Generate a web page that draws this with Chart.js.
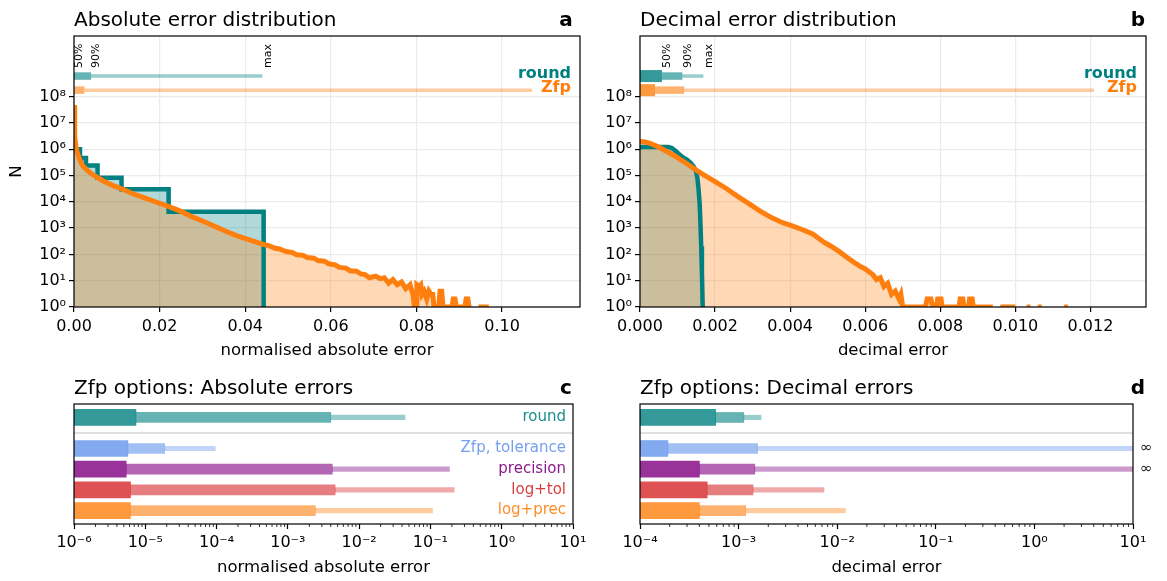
<!DOCTYPE html>
<html>
<head>
<meta charset="utf-8">
<title>Error distributions</title>
<script src="https://cdn.jsdelivr.net/npm/chart.js@4.4.1/dist/chart.umd.min.js"></script>
<style>
  body { margin: 0; background: #fff; }
  #figure { position: relative; width: 1167px; height: 581px; overflow: hidden; }
  #figure canvas { position: absolute; }
</style>
</head>
<body>
<div id="figure">
  <canvas id="absHist" width="583" height="365" style="left:0;top:0"></canvas>
  <canvas id="decHist" width="584" height="365" style="left:583px;top:0"></canvas>
  <canvas id="absBars" width="600" height="216" style="left:0;top:365px"></canvas>
  <canvas id="decBars" width="584" height="216" style="left:583px;top:365px"></canvas>
</div>
<script>
// --- compressor options and their error percentiles (50%, 90%, max) ---
const optionNames = ['round', 'Zfp, tolerance', 'precision', 'log+tol', 'log+prec'];
const optionRgb = ['0,128,128', '100,149,237', '128,0,128', '214,39,40', '255,127,14'];
const absP50 = [7.4e-6, 5.7e-6, 5.4e-6, 6.2e-6, 6.2e-6];
const absP90 = [4.0e-3, 1.87e-5, 4.2e-3, 4.6e-3, 2.43e-3];
const absMax = [0.044, 9.6e-5, 0.185, 0.215, 0.107];
const decP50 = [5.85e-4, 1.92e-4, 4.0e-4, 4.8e-4, 4.0e-4];
const decP90 = [1.13e-3, 1.56e-3, 1.46e-3, 1.4e-3, 1.18e-3];
const decMax = [1.69e-3, Infinity, Infinity, 7.35e-3, 1.21e-2];
const rowPos = [0, 1.5, 2.5, 3.5, 4.5];
const sepPos = 0.75;

// --- histogram of absolute errors ---
const roundAbsEdges = [0, 0.0014, 0.0028, 0.0055, 0.0111, 0.0221, 0.0443];
const roundAbsCounts = [1.0e6, 4.6e5, 2.4e5, 8.2e4, 3.0e4, 4.2e3, 1];
const zfpAbsX = [0, 0.0001, 0.0002, 0.0004, 0.0007, 0.001, 0.0015, 0.002, 0.003, 0.0044,
  0.0067, 0.009, 0.011, 0.0135, 0.016, 0.019, 0.0219, 0.025, 0.0278, 0.031,
  0.0335, 0.0356, 0.038, 0.041, 0.0442, 0.0455, 0.047, 0.048, 0.0495, 0.051,
  0.052, 0.0535, 0.0545, 0.056, 0.057, 0.0585, 0.0595, 0.061, 0.062, 0.0635,
  0.0645, 0.066, 0.067, 0.068, 0.069, 0.0705, 0.0715, 0.0725, 0.0735, 0.0745,
  0.0755, 0.0765, 0.0775, 0.0785, 0.0792, 0.0795, 0.0799, 0.0801, 0.0806, 0.081,
  0.0813, 0.0818, 0.0824, 0.0829, 0.0834, 0.0838, 0.0841, 0.0852, 0.0855, 0.0859,
  0.0862, 0.0883, 0.0886, 0.089, 0.0893, 0.0913, 0.0916, 0.092, 0.0923, 0.0928,
  0.093, 0.0945, 0.0958, 0.0969];
const zfpAbsN = [4.7e7, 8e6, 3.2e6, 1.4e6, 8e5, 5.6e5, 3.5e5, 2.4e5, 1.6e5, 1.07e5,
  6.3e4, 4.2e4, 3.2e4, 2.1e4, 1.5e4, 1.0e4, 6.8e3, 4.3e3, 2.6e3, 1.6e3,
  1.05e3, 740, 520, 355, 240, 215, 170, 160, 128, 118,
  96, 92, 76, 72, 58, 55, 44, 40, 32, 30,
  24, 23, 18, 17, 13, 15, 12, 13, 8, 11,
  7, 9, 5, 7, 3, 1, 1, 7, 6, 7,
  3, 4, 2, 4, 3, 3, 1, 1, 4, 4,
  1, 1, 2, 2, 1, 1, 2, 2, 1, 1,
  null, 1, 1, 1];

// --- histogram of decimal errors ---
const roundDecX = [0, 0.0002, 0.0004, 0.0006, 0.00075, 0.00085, 0.00095, 0.00105, 0.00115, 0.00125,
  0.00135, 0.00143, 0.00149, 0.00153, 0.00156, 0.00159, 0.00161, 0.00163, 0.00165, 0.00167];
const roundDecN = [1.2e6, 1.2e6, 1.2e6, 1.2e6, 1.2e6, 1.1e6, 8.5e5, 6.3e5, 4.8e5, 4.0e5,
  3.0e5, 2.2e5, 1.5e5, 8e4, 3e4, 8e3, 1.5e3, 200, 20, 1];
const zfpDecX = [0, 0.0001, 0.0002, 0.0003, 0.0005, 0.0007, 0.0009, 0.0011, 0.0013, 0.0015,
  0.0017, 0.002, 0.0023, 0.0026, 0.0029, 0.0032, 0.0035, 0.0038, 0.004, 0.0043,
  0.0046, 0.0049, 0.0051, 0.0053, 0.0055, 0.0057, 0.0059, 0.006, 0.0061, 0.0062,
  0.0063, 0.0064, 0.0065, 0.0066, 0.0067, 0.0068, 0.0069, 0.00695, 0.007, 0.0076,
  0.00765, 0.00775, 0.0078, 0.0079, 0.00793, 0.00802, 0.00805, 0.0085, 0.00853, 0.0086,
  0.00863, 0.00875, 0.00878, 0.00885, 0.00888, 0.0094, 0.0095, 0.0096, 0.01, 0.0101,
  0.0103, 0.0104, 0.0105, 0.0106, 0.0107, 0.0109, 0.0113, 0.0114];
const zfpDecN = [1.95e6, 1.9e6, 1.78e6, 1.6e6, 1.2e6, 8.3e5, 5.9e5, 3.8e5, 2.5e5, 1.6e5,
  1.05e5, 5.8e4, 3.2e4, 1.6e4, 8.5e3, 4.4e3, 2.5e3, 1.6e3, 1.3e3, 900,
  600, 290, 200, 130, 80, 50, 33, 28, 22, 17,
  11, 13, 6, 8, 3, 4, 2, 3, 1, 1,
  2, 2, 1, 1, 2, 2, 1, 1, 2, 2,
  1, 1, 2, 2, 1, 1, null, 1, 1, null,
  1, 1, null, 1, 1, null, 1, 1];

// --- axes ---
const absHistTicks = [0, 0.02, 0.04, 0.06, 0.08, 0.10];
const decHistTicks = [0, 0.002, 0.004, 0.006, 0.008, 0.010, 0.012];
const countTicks = [1, 1e1, 1e2, 1e3, 1e4, 1e5, 1e6, 1e7, 1e8];
const absBarTicks = [1e-6, 1e-5, 1e-4, 1e-3, 1e-2, 1e-1, 1, 10];
const decBarTicks = [1e-4, 1e-3, 1e-2, 1e-1, 1, 10];
const stripRows = [6e8, 1.75e8]; // round, log+prec summary strips above the histograms

Chart.defaults.font.family = '"DejaVu Sans", sans-serif';
Chart.defaults.font.size = 16;
Chart.defaults.color = '#000';
Chart.defaults.animation = false;
Chart.defaults.plugins.legend.display = false;
Chart.defaults.plugins.tooltip.enabled = false;

const SUP = { '-': '\u207b', '0': '\u2070', '1': '\u00b9', '2': '\u00b2', '3': '\u00b3',
  '4': '\u2074', '5': '\u2075', '6': '\u2076', '7': '\u2077', '8': '\u2078', '9': '\u2079' };
function pow10Label(v) {
  const e = String(Math.round(Math.log10(v)));
  return '10' + e.split('').map(c => SUP[c]).join('');
}

// pin the axis boxes so every panel gets the same plot rectangle
function fixWidth(w) {
  return s => { s.width = w; s.paddingTop = 0; s.paddingBottom = 0; };
}
function fixHeight(h) {
  return s => { s.height = h; s.paddingLeft = 0; s.paddingRight = 0; };
}

const framePlugin = {
  id: 'frame',
  afterDraw(chart) {
    const { ctx, chartArea: a } = chart;
    ctx.save();
    ctx.strokeStyle = '#000';
    ctx.lineWidth = 1.2;
    ctx.strokeRect(a.left, a.top, a.right - a.left, a.bottom - a.top);
    ctx.restore();
  }
};

function headingPlugin(title, letter, letterX, baseline) {
  return {
    id: 'heading',
    afterDraw(chart) {
      const ctx = chart.ctx;
      ctx.save();
      ctx.fillStyle = '#000';
      ctx.textBaseline = 'alphabetic';
      ctx.textAlign = 'left';
      ctx.font = '20px "DejaVu Sans"';
      ctx.fillText(title, chart.chartArea.left, baseline);
      ctx.textAlign = 'center';
      ctx.font = 'bold 20px "DejaVu Sans"';
      ctx.fillText(letter, letterX, baseline);
      ctx.restore();
    }
  };
}

// 50% / 90% / max strip drawn as three thick line segments
function stripDatasets(p50, p90, pmax, idx, yRow) {
  const rgb = optionRgb[idx];
  const segs = [[0, p50[idx], 0.8, 12], [p50[idx], p90[idx], 0.6, 7.5], [p90[idx], pmax[idx], 0.4, 3.5]];
  return segs.map(([from, to, alpha, w]) => ({
    data: [{ x: from, y: yRow }, { x: to, y: yRow }],
    borderColor: `rgba(${rgb},${alpha})`,
    borderWidth: w,
    borderCapStyle: 'butt',
    pointRadius: 0,
    fill: false,
    order: 3
  }));
}

function histDataset(xs, ns, rgb, width, stepped, order) {
  return {
    data: xs.map((x, i) => ({ x, y: ns[i] })),
    borderColor: `rgb(${rgb})`,
    backgroundColor: `rgba(${rgb},0.3)`,
    borderWidth: width,
    fill: 'start',
    stepped,
    pointRadius: 0,
    clip: 0,
    order
  };
}

function stripLabels(p50, p90, pmax) {
  return {
    id: 'stripLabels',
    afterDatasetsDraw(chart) {
      const { ctx, chartArea, scales: { x, y } } = chart;
      ctx.save();
      ctx.fillStyle = '#000';
      ctx.font = '11px "DejaVu Sans"';
      ctx.textAlign = 'left';
      ctx.textBaseline = 'top';
      const yTop = y.getPixelForValue(stripRows[0]) - 8;
      [['50%', p50[0]], ['90%', p90[0]], ['max', pmax[0]]].forEach(([txt, v]) => {
        ctx.save();
        ctx.translate(x.getPixelForValue(v), yTop);
        ctx.rotate(-Math.PI / 2);
        ctx.fillText(txt, 0, 0);
        ctx.restore();
      });
      ctx.font = 'bold 16px "DejaVu Sans"';
      ctx.textAlign = 'right';
      ctx.textBaseline = 'middle';
      ctx.fillStyle = `rgb(${optionRgb[0]})`;
      ctx.fillText('round', chartArea.right - 9, y.getPixelForValue(stripRows[0]) - 2);
      ctx.fillStyle = `rgb(${optionRgb[4]})`;
      ctx.fillText('Zfp', chartArea.right - 9, y.getPixelForValue(stripRows[1]) - 2);
      ctx.restore();
    }
  };
}

function histChart(id, opts) {
  const { roundX, roundN, roundStep, zfpX, zfpN, p50, p90, pmax, xMax, xTicks, digits,
    xTitle, yTitle, yWidth, right, title, letter, letterX } = opts;
  return new Chart(document.getElementById(id), {
    type: 'line',
    data: {
      datasets: [
        histDataset(zfpX, zfpN, optionRgb[4], 5, false, 1),
        histDataset(roundX, roundN, optionRgb[0], 4.5, roundStep, 2),
        ...stripDatasets(p50, p90, pmax, 0, stripRows[0]),
        ...stripDatasets(p50, p90, pmax, 4, stripRows[1])
      ]
    },
    options: {
      responsive: false,
      layout: { padding: { top: 36, right, left: 0, bottom: 0 } },
      plugins: { filler: { drawTime: 'beforeDatasetsDraw' } },
      scales: {
        x: {
          type: 'linear', min: 0, max: xMax,
          afterBuildTicks: s => { s.ticks = xTicks.map(v => ({ value: v })); },
          ticks: { callback: v => v.toFixed(digits), padding: 5, maxRotation: 0, autoSkip: false },
          grid: { color: '#ebebeb', lineWidth: 1.2, tickColor: '#000', tickLength: 5, tickWidth: 1.2 },
          border: { display: false },
          title: { display: true, text: xTitle, font: { size: 16.5 }, padding: { top: 0, bottom: 4 } },
          afterFit: fixHeight(58)
        },
        y: {
          type: 'logarithmic', min: 1, max: 2e10,
          afterBuildTicks: s => { s.ticks = countTicks.map(v => ({ value: v })); },
          ticks: { callback: v => pow10Label(v), padding: 3, autoSkip: false },
          grid: { color: '#ebebeb', lineWidth: 1.2, tickColor: '#000', tickLength: 5, tickWidth: 1.2 },
          border: { display: false },
          title: { display: !!yTitle, text: yTitle || '', font: { size: 16.5 }, padding: { top: 7, bottom: 0 } },
          afterFit: fixWidth(yWidth)
        }
      }
    },
    plugins: [framePlugin, stripLabels(p50, p90, pmax), headingPlugin(title, letter, letterX, 26)]
  });
}

// bar rows: thick 50%, medium 90%, thin max
function barDatasets(p50, p90, pmax, xMin, xMax) {
  const cap = v => Math.min(v, xMax);
  const layers = [
    [optionNames.map(() => xMin), p50, 0.8, 16],
    [p50, p90, 0.6, 10],
    [p90, pmax, 0.4, 4.5]
  ];
  return layers.map(([lo, hi, alpha, thick]) => ({
    data: rowPos.map((y, i) => ({ x: [lo[i], cap(hi[i])], y })),
    backgroundColor: optionRgb.map(c => `rgba(${c},${alpha})`),
    maxBarThickness: thick,
    barPercentage: 1,
    categoryPercentage: 1,
    grouped: false,
    borderWidth: 0
  }));
}

const separatorPlugin = {
  id: 'separator',
  beforeDatasetsDraw(chart) {
    const { ctx, chartArea, scales: { y } } = chart;
    const py = y.getPixelForValue(sepPos);
    ctx.save();
    ctx.strokeStyle = '#d4d4d4';
    ctx.lineWidth = 1.5;
    ctx.beginPath();
    ctx.moveTo(chartArea.left, py);
    ctx.lineTo(chartArea.right, py);
    ctx.stroke();
    ctx.restore();
  }
};

const minorTicksPlugin = {
  id: 'minorTicks',
  afterDraw(chart) {
    const { ctx, chartArea, scales: { x } } = chart;
    ctx.save();
    ctx.strokeStyle = '#000';
    ctx.lineWidth = 0.8;
    const e0 = Math.round(Math.log10(x.min)), e1 = Math.round(Math.log10(x.max));
    for (let e = e0; e < e1; e++) {
      for (let m = 2; m < 10; m++) {
        const px = x.getPixelForValue(m * Math.pow(10, e));
        ctx.beginPath();
        ctx.moveTo(px, chartArea.bottom);
        ctx.lineTo(px, chartArea.bottom + 3);
        ctx.stroke();
      }
    }
    ctx.restore();
  }
};

function rowLabels(showNames, pmax) {
  return {
    id: 'rowLabels',
    afterDatasetsDraw(chart) {
      const { ctx, chartArea, scales: { y } } = chart;
      ctx.save();
      ctx.font = '15px "DejaVu Sans"';
      ctx.textBaseline = 'middle';
      rowPos.forEach((r, i) => {
        const py = y.getPixelForValue(r);
        if (showNames) {
          ctx.textAlign = 'right';
          ctx.fillStyle = `rgba(${optionRgb[i]},0.9)`;
          ctx.fillText(optionNames[i], chartArea.right - 7, py);
        }
        if (!isFinite(pmax[i])) {
          ctx.textAlign = 'left';
          ctx.fillStyle = '#222';
          ctx.fillText('\u221e', chartArea.right + 7, py);
        }
      });
      ctx.restore();
    }
  };
}

function barChart(id, opts) {
  const { p50, p90, pmax, xTicks, xTitle, yWidth, right, names, title, letter, letterX } = opts;
  const xMin = xTicks[0], xMax = xTicks[xTicks.length - 1];
  return new Chart(document.getElementById(id), {
    type: 'bar',
    data: { datasets: barDatasets(p50, p90, pmax, xMin, xMax) },
    options: {
      responsive: false,
      indexAxis: 'y',
      layout: { padding: { top: 39, right, left: 0, bottom: 0 } },
      scales: {
        x: {
          type: 'logarithmic', min: xMin, max: xMax,
          afterBuildTicks: s => { s.ticks = xTicks.map(v => ({ value: v })); },
          ticks: { callback: v => pow10Label(v), padding: 4, maxRotation: 0, autoSkip: false },
          grid: { drawOnChartArea: false, tickColor: '#000', tickLength: 5, tickWidth: 1.2 },
          border: { display: false },
          title: { display: true, text: xTitle, font: { size: 16.5 }, padding: { top: 0, bottom: 3 } },
          afterFit: fixHeight(57)
        },
        y: {
          type: 'linear', reverse: true, min: -0.65, max: 5.15, offset: false,
          ticks: { display: false },
          grid: { display: false },
          border: { display: false },
          afterFit: fixWidth(yWidth)
        }
      }
    },
    plugins: [separatorPlugin, framePlugin, minorTicksPlugin, rowLabels(names, pmax),
      headingPlugin(title, letter, letterX, 29)]
  });
}

histChart('absHist', {
  roundX: roundAbsEdges, roundN: roundAbsCounts, roundStep: 'before', zfpX: zfpAbsX, zfpN: zfpAbsN,
  p50: absP50, p90: absP90, pmax: absMax, xMax: 0.1182, xTicks: absHistTicks, digits: 2,
  xTitle: 'normalised absolute error', yTitle: 'N', yWidth: 74, right: 3,
  title: 'Absolute error distribution', letter: 'a', letterX: 566
});
histChart('decHist', {
  roundX: roundDecX, roundN: roundDecN, roundStep: false, zfpX: zfpDecX, zfpN: zfpDecN,
  p50: decP50, p90: decP90, pmax: decMax, xMax: 0.01348, xTicks: decHistTicks, digits: 3,
  xTitle: 'decimal error', yTitle: null, yWidth: 57, right: 21,
  title: 'Decimal error distribution', letter: 'b', letterX: 555
});
barChart('absBars', {
  p50: absP50, p90: absP90, pmax: absMax, xTicks: absBarTicks,
  xTitle: 'normalised absolute error', yWidth: 74, right: 27, names: true,
  title: 'Zfp options: Absolute errors', letter: 'c', letterX: 566
});
barChart('decBars', {
  p50: decP50, p90: decP90, pmax: decMax, xTicks: decBarTicks,
  xTitle: 'decimal error', yWidth: 57, right: 34, names: false,
  title: 'Zfp options: Decimal errors', letter: 'd', letterX: 555
});
</script>
</body>
</html>
